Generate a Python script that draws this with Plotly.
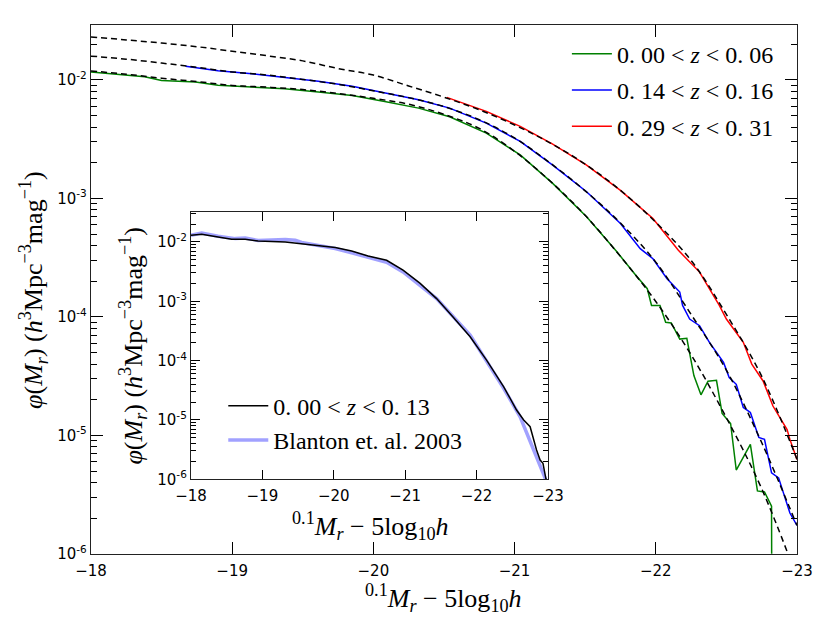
import plotly.graph_objects as go

# --- main panel: measured luminosity functions in three redshift slices ---
mag_lo = [-18.00, -18.19, -18.38, -18.50, -18.67, -18.74, -18.90, -19.14, -19.37, -19.61,
          -19.85, -20.08, -20.32, -20.54, -20.80, -21.04, -21.27, -21.51, -21.72, -21.86,
          -21.94, -21.97, -22.03, -22.07, -22.11, -22.17, -22.22, -22.27, -22.32, -22.37,
          -22.43, -22.47, -22.53, -22.57, -22.67, -22.72, -22.77, -22.82, -22.825]
phi_lo = [1.17e-2, 1.125e-2, 1.067e-2, 9.9e-3, 9.75e-3, 9.62e-3, 9.02e-3, 8.67e-3, 8.43e-3, 7.91e-3,
          7.41e-3, 6.59e-3, 5.79e-3, 4.9e-3, 3.56e-3, 2.33e-3, 1.34e-3, 7.0e-4, 3.6e-4, 2.24e-4,
          1.73e-4, 1.25e-4, 1.25e-4, 9.0e-5, 8.9e-5, 6.5e-5, 6.6e-5, 3.2e-5, 2.2e-5, 2.87e-5,
          2.92e-5, 1.53e-5, 1.26e-5, 5.1e-6, 8.4e-6, 3.4e-6, 3.33e-6, 2.53e-6, 1e-8]

mag_mid = [-18.67, -18.90, -19.14, -19.37, -19.61, -19.85, -20.08, -20.32, -20.54, -20.80,
           -21.04, -21.27, -21.51, -21.75, -21.89, -21.98, -22.08, -22.17, -22.19, -22.24,
           -22.31, -22.38, -22.48, -22.52, -22.57, -22.62, -22.67, -22.73, -22.77, -22.82,
           -22.87, -22.95, -23.00]
phi_mid = [1.306e-2, 1.199e-2, 1.13e-2, 1.054e-2, 9.75e-3, 8.85e-3, 7.76e-3, 6.81e-3, 5.79e-3, 4.33e-3,
           3.03e-3, 1.91e-3, 1.14e-3, 6.14e-4, 3.77e-4, 3.10e-4, 2.10e-4, 1.62e-4, 1.25e-4, 9.6e-5,
           8.43e-5, 6.1e-5, 4.13e-5, 3.08e-5, 2.70e-5, 1.72e-5, 1.56e-5, 9.6e-6, 9.25e-6, 4.83e-6,
           4.38e-6, 2.21e-6, 1.74e-6]

mag_hi = [-20.52, -20.80, -21.04, -21.27, -21.51, -21.75, -21.98, -22.16, -22.31, -22.45,
          -22.50, -22.62, -22.68, -22.76, -22.83, -22.93, -22.95, -23.00]
phi_hi = [7.13e-3, 5.43e-3, 4.06e-3, 2.87e-3, 1.91e-3, 1.17e-3, 6.78e-4, 3.65e-4, 2.39e-4, 1.25e-4,
          9.6e-5, 6.11e-5, 4.0e-5, 2.88e-5, 1.77e-5, 1.12e-5, 9.25e-6, 6.27e-6]

mag_fit = [-18.0, -18.25, -18.5, -18.75, -19.0, -19.25, -19.5, -19.75, -20.0, -20.25, -20.5,
           -20.75, -21.0, -21.25, -21.5, -21.75, -22.0, -22.25, -22.5, -22.75, -23.0]
fit_lo = [1.19e-2, 1.12e-2, 1.035e-2, 9.7e-3, 9.0e-3, 8.7e-3, 8.3e-3, 7.7e-3, 7.0e-3, 6.24e-3, 5.13e-3,
          3.9e-3, 2.5e-3, 1.41e-3, 7.2e-4, 3.24e-4, 1.35e-4, 4.8e-5, 1.41e-5, 3.55e-6, 6.3e-7]
fit_mid = [1.59e-2, 1.50e-2, 1.39e-2, 1.28e-2, 1.17e-2, 1.10e-2, 1.01e-2, 9.2e-3, 8.1e-3, 7.1e-3, 5.96e-3,
           4.62e-3, 3.24e-3, 2.0e-3, 1.16e-3, 6.2e-4, 2.9e-4, 1.05e-4, 3.55e-5, 8.7e-6, 1.74e-6]
fit_hi = [2.31e-2, 2.18e-2, 2.05e-2, 1.91e-2, 1.75e-2, 1.60e-2, 1.45e-2, 1.25e-2, 1.10e-2, 8.9e-3, 7.16e-3,
          5.6e-3, 4.17e-3, 2.95e-3, 1.95e-3, 1.17e-3, 6.3e-4, 3.0e-4, 1.05e-4, 3.16e-5, 6.3e-6]

# --- inset: full low-z sample vs Blanton et al. 2003 ---
mag_all = [-18.00, -18.15, -18.38, -18.57, -18.76, -18.94, -19.32, -19.55, -19.78, -20.02,
           -20.25, -20.48, -20.74, -20.97, -21.21, -21.44, -21.67, -21.91, -22.14, -22.38,
           -22.56, -22.66, -22.75, -22.84, -22.89, -22.93, -22.97, -23.00]
phi_all = [1.30e-2, 1.35e-2, 1.21e-2, 1.11e-2, 1.11e-2, 1.04e-2, 1.0e-2, 9.4e-3, 8.8e-3, 8.05e-3,
           7.05e-3, 5.8e-3, 4.92e-3, 3.34e-3, 2.0e-3, 1.11e-3, 5.46e-4, 2.52e-4, 1.02e-4, 3.62e-5,
           1.47e-5, 1.0e-5, 7.7e-6, 3.11e-6, 2.11e-6, 1.86e-6, 1.04e-6, 8e-7]

mag_b03 = [-18.00, -18.15, -18.38, -18.62, -18.76, -18.94, -19.32, -19.46, -19.55, -19.78,
           -20.02, -20.25, -20.48, -20.74, -20.97, -21.21, -21.44, -21.91, -22.38, -22.61,
           -22.84, -22.96, -23.00]
phi_b03 = [1.30e-2, 1.42e-2, 1.25e-2, 1.14e-2, 1.17e-2, 1.06e-2, 1.10e-2, 1.07e-2, 9.8e-3, 8.7e-3,
           7.75e-3, 6.6e-3, 5.6e-3, 4.55e-3, 3.13e-3, 1.87e-3, 1.11e-3, 2.69e-4, 3.4e-5, 1.13e-5,
           2.4e-6, 1.05e-6, 7e-7]

# axis ticks
x_ticks = [-18, -19, -20, -21, -22, -23]
y_ticks = [1e-6, 1e-5, 1e-4, 1e-3, 1e-2]
y_labels = ['10<sup>-6</sup>', '10<sup>-5</sup>', '10<sup>-4</sup>', '10<sup>-3</sup>', '10<sup>-2</sup>']
minor_vals = [k * 10.0 ** e for e in range(-6, -1) for k in range(2, 10)]

serif = "Liberation Serif"
sans = "DejaVu Sans"

fig = go.Figure()

for mags, phis, col, name in [(mag_lo, phi_lo, '#008000', '0. 00 < <i>z</i> < 0. 06'),
                              (mag_mid, phi_mid, '#0000ff', '0. 14 < <i>z</i> < 0. 16'),
                              (mag_hi, phi_hi, '#ff0000', '0. 29 < <i>z</i> < 0. 31')]:
    fig.add_trace(go.Scatter(x=mags, y=phis, mode='lines', name=name, legendgroup=name,
                             line=dict(color=col, width=1.5)))

for fit in [fit_lo, fit_mid, fit_hi]:
    fig.add_trace(go.Scatter(x=mag_fit, y=fit, mode='lines', showlegend=False,
                             line=dict(color='black', width=1.5, dash='6px,4px', shape='spline')))

fig.add_trace(go.Scatter(x=mag_b03, y=phi_b03, mode='lines', name='Blanton et. al. 2003',
                         xaxis='x2', yaxis='y2', legend='legend2', legendrank=2,
                         line=dict(color='rgba(110,110,255,0.65)', width=3.5)))
fig.add_trace(go.Scatter(x=mag_all, y=phi_all, mode='lines', name='0. 00 < <i>z</i> < 0. 13',
                         xaxis='x2', yaxis='y2', legend='legend2', legendrank=1,
                         line=dict(color='black', width=1.5)))

xtitle = '<sup>0.1</sup><i>M<sub>r</sub></i> − 5log<sub>10</sub><i>h</i>'
ytitle = '<i>φ</i>(<i>M<sub>r</sub></i>) (<i>h</i><sup>3</sup>Mpc<sup>−3</sup>mag<sup>−1</sup>)'

def xax(domain, anchor, tlen):
    return dict(domain=domain, anchor=anchor, range=[-18, -23], tickvals=x_ticks, automargin=False,
                ticks='inside', ticklen=tlen, tickwidth=1, tickcolor='black', ticklabelstandoff=3,
                showline=True, linecolor='#222', linewidth=1.3, mirror='ticks',
                showgrid=False, zeroline=False,
                tickfont=dict(family=sans, size=15, color='black'))

def yax(domain, anchor, top, tlen, mlen):
    return dict(domain=domain, anchor=anchor, type='log', range=[-6, top], automargin=False,
                tickvals=y_ticks, ticktext=y_labels,
                ticks='inside', ticklen=tlen, tickwidth=1, tickcolor='black',
                minor=dict(tickvals=minor_vals, ticks='inside', ticklen=mlen, tickcolor='black',
                           tickwidth=1, showgrid=False),
                showline=True, linecolor='#222', linewidth=1.3, mirror='ticks',
                showgrid=False, zeroline=False,
                tickfont=dict(family=sans, size=15, color='black'))

title_font = dict(family=serif, size=26, color='black')
titles = [
    dict(text=xtitle, x=0.534, y=0.040, textangle=0),
    dict(text=ytitle, x=0.040, y=0.535, textangle=-90),
    dict(text=xtitle, x=0.446, y=0.156, textangle=0),
    dict(text=ytitle, x=0.160, y=0.445, textangle=-90),
]

fig.update_layout(
    width=830, height=623,
    margin=dict(l=0, r=0, t=0, b=0),
    paper_bgcolor='white', plot_bgcolor='white',
    xaxis=xax([0.1096, 0.9602], 'y', 12),
    yaxis=yax([0.111, 0.9604], 'x', -1.533, 12, 6),
    xaxis2=xax([0.2301, 0.6602], 'y2', 9),
    yaxis2=yax([0.2307, 0.6592], 'x2', -1.5, 9, 5),
    annotations=[dict(t, xref='paper', yref='paper', xanchor='center', yanchor='middle',
                      showarrow=False, font=title_font) for t in titles],
    legend=dict(x=0.683, y=0.949, xanchor='left', yanchor='top', bgcolor='rgba(0,0,0,0)',
                font=dict(family=serif, size=24, color='black'), itemwidth=40, tracegroupgap=2),
    legend2=dict(x=0.269, y=0.384, xanchor='left', yanchor='top', bgcolor='rgba(0,0,0,0)',
                 font=dict(family=serif, size=24, color='black'), itemwidth=40),
)

# drop the browser's default page margin so the figure sits at the window origin
fig.write_html("out.html", config={'displayModeBar': False},
               post_script="document.body.style.margin = '0px';")
